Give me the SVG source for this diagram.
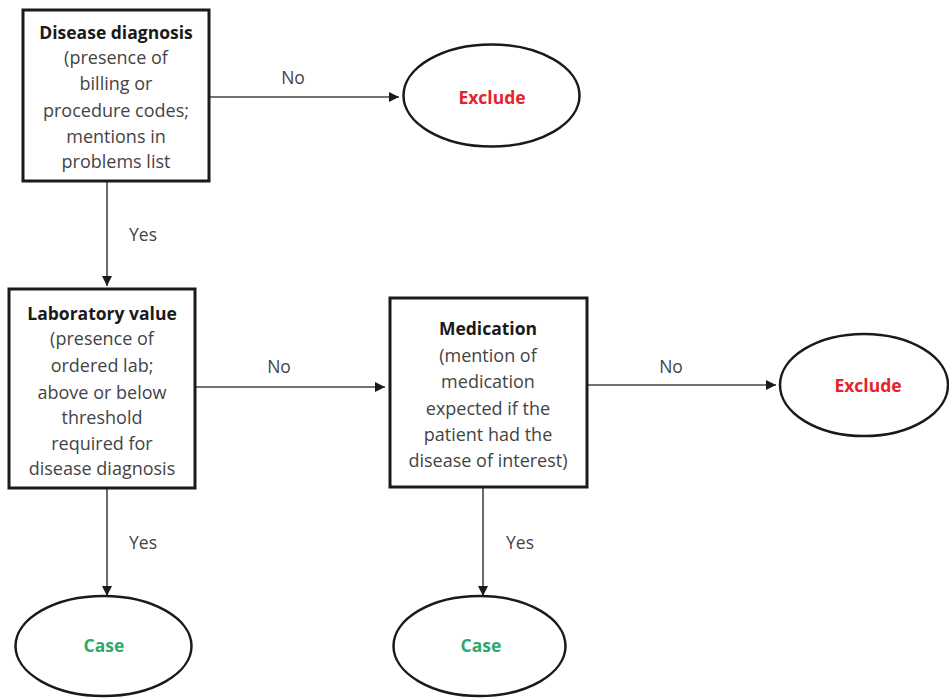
<svg xmlns="http://www.w3.org/2000/svg" width="949" height="698" viewBox="0 0 949 698">
  <style>
    .box { fill: #ffffff; stroke: #1a1a1a; stroke-width: 3; }
    .oval { fill: #ffffff; stroke: #1a1a1a; stroke-width: 2.5; }
    .conn { fill: none; stroke: #444444; stroke-width: 1.6; marker-end: url(#arrow); }
    text { font-family: "Open Sans", Lato, "Liberation Sans", sans-serif; text-anchor: middle; dominant-baseline: central; }
    .title { font-size: 17.5px; font-weight: bold; fill: #1a1a1a; }
    .body { font-size: 18px; fill: #444444; }
    .lbl { font-size: 17.5px; fill: #444444; }
    .excl { font-size: 17.5px; font-weight: bold; fill: #e3242b; }
    .case { font-size: 17.5px; font-weight: bold; fill: #2ea86b; }
  </style>
  <defs>
    <marker id="arrow" viewBox="0 0 10 10" refX="10" refY="5" markerWidth="10" markerHeight="10" markerUnits="userSpaceOnUse" orient="auto">
      <path d="M0,0 L10,5 L0,10 z" fill="#1a1a1a"/>
    </marker>
  </defs>

  <g id="connectors">
    <line class="conn" x1="209" y1="97" x2="399" y2="97"/>
    <line class="conn" x1="107" y1="181" x2="107" y2="286"/>
    <line class="conn" x1="195" y1="387" x2="385" y2="387"/>
    <line class="conn" x1="587" y1="385" x2="776" y2="385"/>
    <line class="conn" x1="107" y1="488" x2="107" y2="596"/>
    <line class="conn" x1="483" y1="488" x2="483" y2="596"/>
    <text class="lbl" x="293" y="77">No</text>
    <text class="lbl" x="143" y="234">Yes</text>
    <text class="lbl" x="279" y="366">No</text>
    <text class="lbl" x="671" y="366">No</text>
    <text class="lbl" x="143" y="542">Yes</text>
    <text class="lbl" x="520" y="542">Yes</text>
  </g>

  <g id="disease-diagnosis">
    <rect class="box" x="23" y="10" width="186" height="171"/>
    <text class="title" x="116" y="32">Disease diagnosis</text>
    <text class="body" x="116" y="57">(presence of</text>
    <text class="body" x="116" y="83">billing or</text>
    <text class="body" x="116" y="110">procedure  codes;</text>
    <text class="body" x="116" y="136">mentions in</text>
    <text class="body" x="116" y="161">problems list</text>
  </g>

  <g id="exclude-1">
    <ellipse class="oval" cx="491.5" cy="95.5" rx="88" ry="51"/>
    <text class="excl" x="492" y="97">Exclude</text>
  </g>

  <g id="laboratory-value">
    <rect class="box" x="9" y="289" width="186" height="199"/>
    <text class="title" x="102" y="313">Laboratory value</text>
    <text class="body" x="102" y="338">(presence of</text>
    <text class="body" x="102" y="365">ordered lab;</text>
    <text class="body" x="102" y="392">above or below</text>
    <text class="body" x="102" y="417">threshold</text>
    <text class="body" x="102" y="443">required for</text>
    <text class="body" x="102" y="468">disease diagnosis</text>
  </g>

  <g id="medication">
    <rect class="box" x="390" y="298" width="197" height="189"/>
    <text class="title" x="488" y="328">Medication</text>
    <text class="body" x="488" y="355">(mention of</text>
    <text class="body" x="488" y="381">medication</text>
    <text class="body" x="488" y="408">expected if the</text>
    <text class="body" x="488" y="434">patient had the</text>
    <text class="body" x="488" y="460">disease of interest)</text>
  </g>

  <g id="exclude-2">
    <ellipse class="oval" cx="864" cy="385" rx="84" ry="51"/>
    <text class="excl" x="868" y="385">Exclude</text>
  </g>

  <g id="case-1">
    <ellipse class="oval" cx="103.5" cy="646" rx="88" ry="50"/>
    <text class="case" x="104" y="645">Case</text>
  </g>

  <g id="case-2">
    <ellipse class="oval" cx="479.5" cy="646" rx="86" ry="50"/>
    <text class="case" x="481" y="645">Case</text>
  </g>
</svg>
